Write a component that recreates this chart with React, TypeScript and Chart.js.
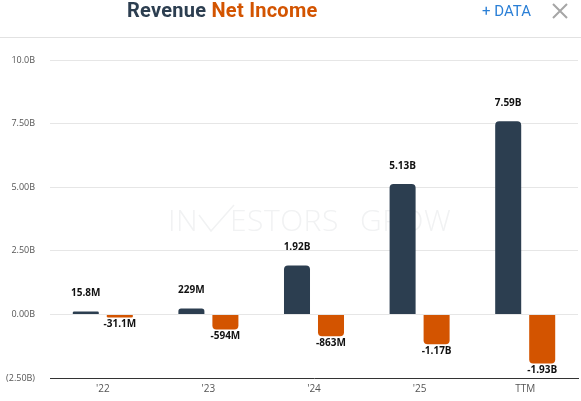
import * as React from 'react';
import {useRef, useEffect} from 'react';
import {Chart, registerables} from 'chart.js';

Chart.register(...registerables);

const categories = ["'22", "'23", "'24", "'25", 'TTM'];
const revenue = [15800000, 229000000, 1920000000, 5130000000, 7590000000];
const netIncome = [-31100000, -594000000, -863000000, -1170000000, -1930000000];
const revenueLabels = ['15.8M', '229M', '1.92B', '5.13B', '7.59B'];
const netIncomeLabels = ['-31.1M', '-594M', '-863M', '-1.17B', '-1.93B'];
const yTicks = [10000000000, 7500000000, 5000000000, 2500000000, 0, -2500000000];
const yTickLabels = ['10.0B', '7.50B', '5.00B', '2.50B', '0.00B', '(2.50B)'];

const NAVY = '#2c3e50';
const ORANGE = '#d35400';

// faint logo behind the bars, the V of INVESTORS is a tick
const watermark = {
  id: 'watermark',
  beforeDatasetsDraw(chart: any) {
    const {ctx} = chart;
    ctx.save();
    ctx.font = '300 30px "Open Sans"';
    ctx.fillStyle = '#f1f2f3';
    ctx.strokeStyle = '#f1f2f3';
    ctx.lineWidth = 1.5;
    ctx.textAlign = 'left';
    ctx.textBaseline = 'middle';
    ctx.letterSpacing = '0.5px';
    ctx.fillText('IN', 168, 222);
    ctx.fillText('ESTORS', 230, 222);
    ctx.fillText('GROW', 360, 222);
    ctx.beginPath();
    ctx.moveTo(199, 215);
    ctx.lineTo(211, 231);
    ctx.lineTo(234, 205);
    ctx.stroke();
    ctx.restore();
  },
};

const barLabels = {
  id: 'barLabels',
  afterDatasetsDraw(chart: any) {
    const {ctx} = chart;
    ctx.save();
    ctx.font = 'bold 10px "Open Sans"';
    ctx.fillStyle = '#111111';
    ctx.textAlign = 'center';
    ctx.textBaseline = 'middle';
    chart.getDatasetMeta(0).data.forEach((bar: any, i: number) => {
      ctx.fillText(revenueLabels[i], bar.x, bar.y - 18);
    });
    chart.getDatasetMeta(1).data.forEach((bar: any, i: number) => {
      ctx.fillText(netIncomeLabels[i], bar.x, bar.y + 6.5);
    });
    ctx.restore();
  },
};

function App(): JSX.Element {
  const chartContainer = useRef<HTMLCanvasElement>(null);

  useEffect(() => {
    if (!chartContainer.current) return;
    const chart = new Chart(chartContainer.current, {
      type: 'bar',
      data: {
        labels: categories,
        datasets: [
          {
            label: 'Revenue',
            data: revenue,
            backgroundColor: NAVY,
            borderRadius: 4,
            minBarLength: 3,
            categoryPercentage: 0.644,
            barPercentage: 0.765,
          },
          {
            label: 'Net Income',
            data: netIncome,
            backgroundColor: ORANGE,
            borderRadius: 4,
            minBarLength: 3,
            categoryPercentage: 0.644,
            barPercentage: 0.765,
          },
        ],
      },
      options: {
        animation: false,
        responsive: false,
        layout: {padding: {top: 60, right: 3, left: 0, bottom: 0}},
        plugins: {
          legend: {display: false},
          tooltip: {enabled: false},
        },
        scales: {
          x: {
            afterFit(axis: any) {
              axis.height = 23;
            },
            grid: {display: false, drawTicks: false},
            border: {color: '#333333', width: 1},
            ticks: {
              color: '#555555',
              font: {family: '"Open Sans"', size: 10},
              padding: 5,
              maxRotation: 0,
            },
          },
          y: {
            min: -2500000000,
            max: 10000000000,
            afterFit(axis: any) {
              axis.width = 50;
            },
            afterBuildTicks(axis: any) {
              axis.ticks = yTicks.map((value) => ({value}));
            },
            grid: {
              color: (c: any) => (c.tick.value === -2500000000 ? 'rgba(0,0,0,0)' : '#e6e6e6'),
              drawTicks: false,
            },
            border: {display: false},
            ticks: {
              color: '#555555',
              font: {family: '"Open Sans"', size: 9},
              padding: 15,
              callback: (value: any) => yTickLabels[yTicks.indexOf(Number(value))],
            },
          },
        },
      },
      plugins: [watermark, barLabels],
    } as any);
    return () => {
      chart.destroy();
    };
  }, []);

  return (
    <div style={{position: 'fixed', left: 0, top: 0, width: 581, height: 401, background: '#fff', overflow: 'hidden', fontFamily: 'Roboto'}}>
      <canvas ref={chartContainer} width={581} height={401} style={{position: 'absolute', left: 0, top: 0}} />
      <div style={{position: 'absolute', left: 127, top: -2, fontSize: 20, lineHeight: '24px', fontWeight: 700, letterSpacing: 0.25, whiteSpace: 'nowrap'}}>
        <span style={{color: NAVY}}>Revenue</span> <span style={{color: ORANGE}}>Net Income</span>
      </div>
      <div style={{position: 'absolute', left: 482, top: 2, fontSize: 15, lineHeight: '18px', color: '#2a7fd6', whiteSpace: 'nowrap'}}>+ DATA</div>
      <svg width={16} height={16} style={{position: 'absolute', left: 552, top: 3}}>
        <path d="M1 1 L15 15 M15 1 L1 15" stroke="#a6a6a6" strokeWidth={2} fill="none" />
      </svg>
      <div style={{position: 'absolute', left: 0, top: 37, width: 581, height: 1, background: '#e2e2e2'}} />
    </div>
  );
}

export default App;
